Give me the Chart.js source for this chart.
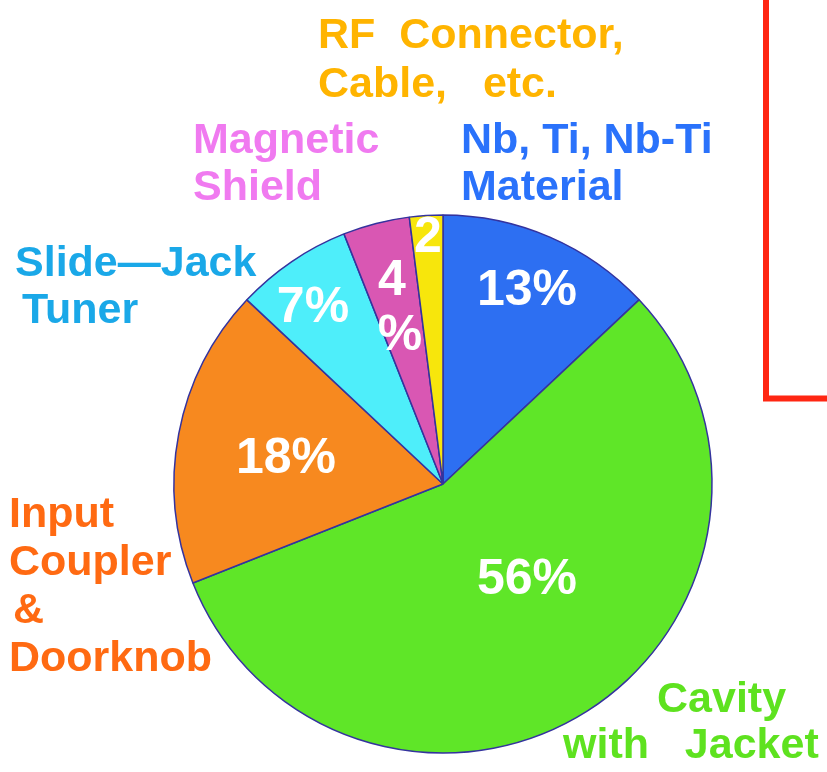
<!DOCTYPE html>
<html>
<head>
<meta charset="utf-8">
<script src="https://cdn.jsdelivr.net/npm/chart.js@4/dist/chart.umd.min.js"></script>
<style>
  html, body { margin: 0; padding: 0; background: #ffffff; }
  #wrap { width: 827px; height: 772px; }
</style>
</head>
<body>
<div id="wrap"><canvas id="pie" width="827" height="772"></canvas></div>
<script>
// Cost breakdown of a cryomodule component set (percent)
const categories = [
  'Nb, Ti, Nb-Ti Material',
  'Cavity with Jacket',
  'Input Coupler & Doorknob',
  'Slide—Jack Tuner',
  'Magnetic Shield',
  'RF Connector, Cable, etc.'
];
const shares = [13, 56, 18, 7, 4, 2];

// Slice fills and outside label colours
const sliceColors = ['#2d6ff2', '#5fe628', '#f7891f', '#4eeefa', '#d957b3', '#f7e60c'];
const labelColors = ['#2a72fb', '#5ee21f', '#ff6a12', '#1aa8e8', '#f07af0', '#ffb400'];

// Outside labels: lines, left x, first baseline, line pitch
const outsideLabels = [
  { lines: ['Nb, Ti, Nb-Ti', 'Material'], x: 461, y: 153, pitch: 47 },
  { lines: ['Cavity', 'with   Jacket'], x: 657, y: 712, pitch: 46, xs: [657, 563] },
  { lines: ['Input', 'Coupler', '&', 'Doorknob'], x: 9, y: 527, pitch: 48, xs: [9, 9, 13, 9] },
  { lines: ['Slide—Jack', 'Tuner'], x: 15, y: 276, pitch: 47, xs: [15, 22] },
  { lines: ['Magnetic', 'Shield'], x: 193, y: 153, pitch: 47 },
  { lines: ['RF  Connector,', 'Cable,   etc.'], x: 318, y: 48, pitch: 49 }
];

// Value labels inside the slices, offsets from the pie centre
const valueLabels = [
  { mode: 'inline', dx: 84, dy: -179 },
  { mode: 'inline', dx: 84, dy: 110 },
  { mode: 'inline', dx: -157, dy: -11 },
  { mode: 'inline', dx: -130, dy: -162 },
  { mode: 'stacked', dx: -51, dy: -189, dx2: -43, dy2: -134 },
  { mode: 'bare', dx: -15, dy: -232 }
];

const labelFont = 'bold 43px "Liberation Sans", Arial, sans-serif';
const valueFont = 'bold 50px "Liberation Sans", Arial, sans-serif';

const pieLabels = {
  id: 'pieLabels',
  afterDatasetsDraw(chart) {
    const ctx = chart.ctx;
    const meta = chart.getDatasetMeta(0);
    const cx = meta.data[0].x;
    const cy = meta.data[0].y;
    const values = chart.data.datasets[0].data;
    ctx.save();

    // values inside slices
    ctx.font = valueFont;
    ctx.fillStyle = '#ffffff';
    ctx.textAlign = 'center';
    ctx.textBaseline = 'alphabetic';
    values.forEach((v, i) => {
      const p = valueLabels[i];
      if (p.mode === 'inline') {
        ctx.fillText(v + '%', cx + p.dx, cy + p.dy);
      } else if (p.mode === 'stacked') {
        ctx.fillText(String(v), cx + p.dx, cy + p.dy);
        ctx.fillText('%', cx + p.dx2, cy + p.dy2);
      } else {
        ctx.fillText(String(v), cx + p.dx, cy + p.dy);
      }
    });

    // category names around the pie
    ctx.font = labelFont;
    ctx.textAlign = 'left';
    outsideLabels.forEach((l, i) => {
      ctx.fillStyle = labelColors[i];
      l.lines.forEach((line, k) => {
        const x = l.xs ? l.xs[k] : l.x;
        ctx.fillText(line, x, l.y + k * l.pitch);
      });
    });

    // red frame corner at the upper right
    ctx.strokeStyle = '#ff2612';
    ctx.lineWidth = 6;
    ctx.lineJoin = 'miter';
    ctx.beginPath();
    ctx.moveTo(766, -5);
    ctx.lineTo(766, 398.5);
    ctx.lineTo(832, 398.5);
    ctx.stroke();
    ctx.restore();
  }
};

new Chart(document.getElementById('pie'), {
  type: 'pie',
  data: {
    labels: categories,
    datasets: [{
      data: shares,
      backgroundColor: sliceColors,
      borderColor: '#34339e',
      borderWidth: 1.5
    }]
  },
  options: {
    responsive: false,
    animation: false,
    radius: 269,
    layout: { padding: { left: 163, right: 104, top: 204, bottom: 8 } },
    plugins: {
      legend: { display: false },
      tooltip: { enabled: false }
    }
  },
  plugins: [pieLabels]
});
</script>
</body>
</html>
